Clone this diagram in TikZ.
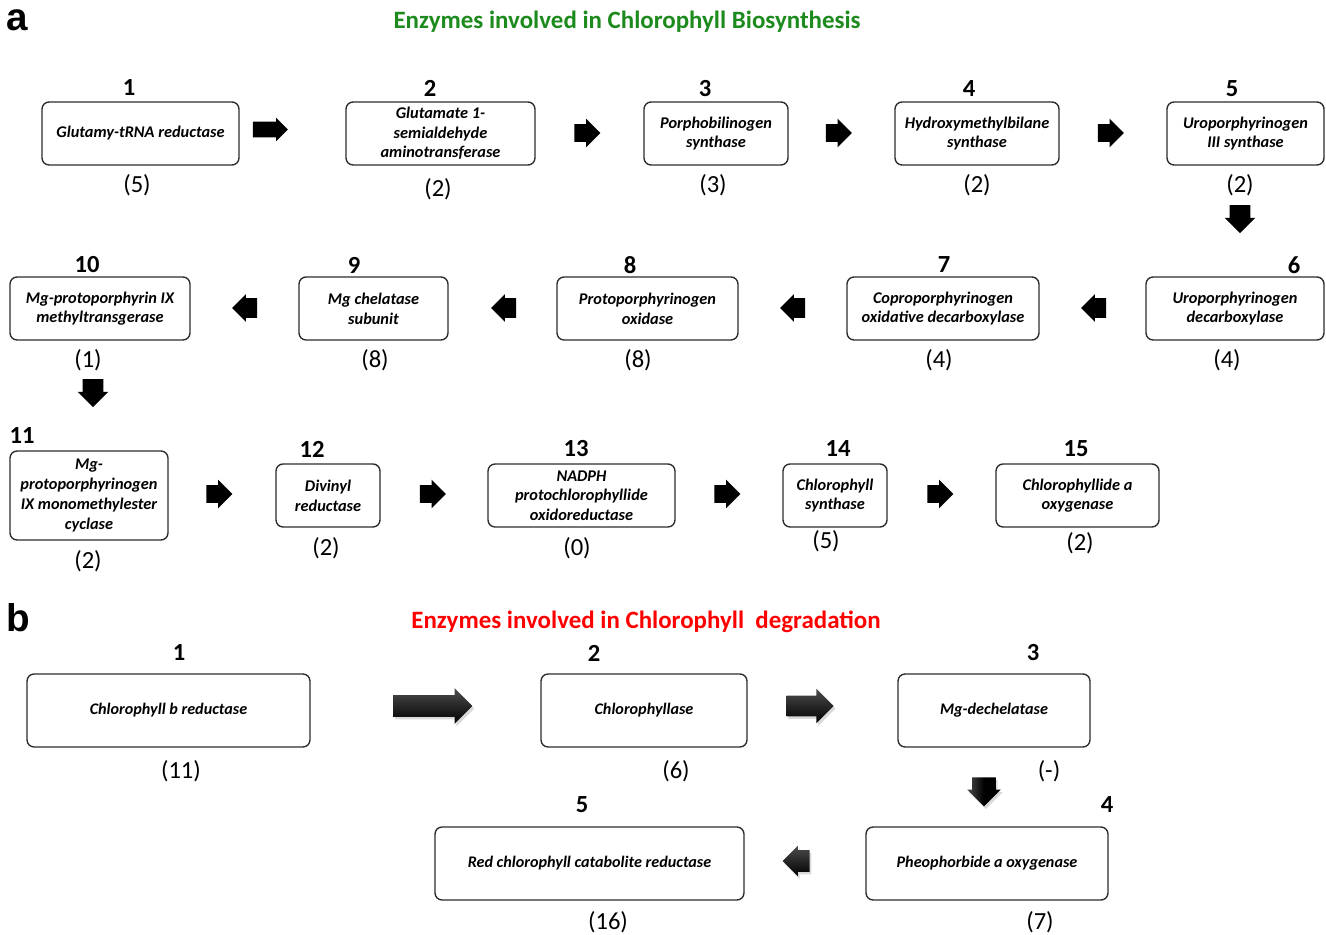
\documentclass[tikz,border=0pt]{standalone}
\usepackage{fontspec}
\setmainfont{Carlito}
\newfontfamily\arialfont{Liberation Sans}
\usetikzlibrary{shapes.arrows,shadows,positioning}

\definecolor{titlegreen}{RGB}{28,138,28}
\definecolor{titlered}{RGB}{255,0,0}
\definecolor{boxline}{RGB}{45,45,45}

\tikzset{
  enzyme/.style={draw=boxline, line width=0.8pt, rounded corners=4pt, align=center,
    inner sep=1pt, minimum height=1.26cm,
    font=\fontsize{9.3}{11.2}\selectfont\bfseries\itshape},
  degr/.style={enzyme, minimum height=1.46cm, font=\fontsize{9.2}{10}\selectfont\bfseries\itshape},
  stepno/.style={font=\fontsize{14}{14}\selectfont\bfseries},
  count/.style={font=\fontsize{14}{14}\selectfont},
  panel/.style={font=\arialfont\fontsize{22}{22}\selectfont\bfseries},
  heading/.style={font=\fontsize{14.2}{15}\selectfont\bfseries},
  fat/.style={single arrow, fill=black, draw=none, single arrow head indent=0pt},
  rarr/.style={fat, minimum height=0.52cm, inner xsep=0pt, inner ysep=0.17cm, single arrow head extend=0.11cm},
  larr/.style={fat, shape border rotate=180, minimum height=0.50cm, inner xsep=0pt, inner ysep=0.19cm, single arrow head extend=0.08cm},
  darr/.style={fat, shape border rotate=270, minimum height=0.56cm, inner ysep=0pt, inner xsep=0.20cm, single arrow head extend=0.10cm},
  glossy/.style={single arrow, draw=none, top color=black!70, middle color=black, bottom color=black,
    drop shadow={shadow xshift=1pt, shadow yshift=-1.5pt, opacity=0.3}},
}

\begin{document}
\begin{tikzpicture}[x=0.02cm, y=-0.02cm]
\useasboundingbox (0,0) rectangle (1326,935);

% panel a
\node[panel, inner sep=0pt] (pa) at (17,20) {a};
\node[heading, text=titlegreen] (ta) at (627,22) {Enzymes involved in Chlorophyll Biosynthesis};

\node[enzyme, minimum width=3.94cm] (e1) at (140.5,133.5) {Glutamy-tRNA reductase};
\node[enzyme, minimum width=3.78cm] (e2) at (440.5,133.5) {Glutamate 1-\\semialdehyde\\aminotransferase};
\node[enzyme, minimum width=2.88cm] (e3) at (716,133.5) {Porphobilinogen\\synthase};
\node[enzyme, minimum width=3.28cm] (e4) at (977,133.5) {Hydroxymethylbilane\\synthase};
\node[enzyme, minimum width=3.14cm] (e5) at (1245.5,133.5) {Uroporphyrinogen\\III synthase};

\node[enzyme, minimum width=3.56cm] (e6) at (1235,308.5) {Uroporphyrinogen\\decarboxylase};
\node[enzyme, minimum width=3.84cm] (e7) at (943,308.5) {Coproporphyrinogen\\oxidative decarboxylase};
\node[enzyme, minimum width=3.62cm] (e8) at (647.5,308.5) {Protoporphyrinogen\\oxidase};
\node[enzyme, minimum width=2.98cm] (e9) at (373.5,308.5) {Mg chelatase\\subunit};
\node[enzyme, minimum width=3.60cm] (e10) at (100,308.5) {Mg-protoporphyrin IX\\methyltransgerase};

\node[enzyme, minimum width=3.16cm, minimum height=1.78cm] (e11) at (89,495.5) {Mg-\\protoporphyrinogen\\IX monomethylester\\cyclase};
\node[enzyme, minimum width=2.08cm] (e12) at (328,495.5) {Divinyl\\reductase};
\node[enzyme, minimum width=3.74cm] (e13) at (581.5,495.5) {NADPH\\protochlorophyllide\\oxidoreductase};
\node[enzyme, minimum width=2.08cm] (e14) at (835,495.5) {Chlorophyll\\synthase};
\node[enzyme, minimum width=3.26cm] (e15) at (1077.5,495.5) {Chlorophyllide a\\oxygenase};

% step numbers
\node[stepno] (n1) at (129,88) {1};
\node[stepno] (n2) at (430,88) {2};
\node[stepno] (n3) at (705,89) {3};
\node[stepno] (n4) at (969,89) {4};
\node[stepno] (n5) at (1232,89) {5};
\node[stepno] (n6) at (1294,265) {6};
\node[stepno] (n7) at (944,265) {7};
\node[stepno] (n8) at (630,265) {8};
\node[stepno] (n9) at (354,265) {9};
\node[stepno] (n10) at (87,265) {10};
\node[stepno] (n11) at (22,436) {11};
\node[stepno] (n12) at (312,449) {12};
\node[stepno] (n13) at (576,449) {13};
\node[stepno] (n14) at (838,449) {14};
\node[stepno] (n15) at (1076,449) {15};

% gene counts
\node[count] (c1) at (137,185) {(5)};
\node[count] (c2) at (438,189) {(2)};
\node[count] (c3) at (713,185) {(3)};
\node[count] (c4) at (977,185) {(2)};
\node[count] (c5) at (1240,185) {(2)};
\node[count] (c6) at (1227,360) {(4)};
\node[count] (c7) at (939,360) {(4)};
\node[count] (c8) at (638,360) {(8)};
\node[count] (c9) at (375,360) {(8)};
\node[count] (c10) at (88,360) {(1)};
\node[count] (c11) at (88,561) {(2)};
\node[count] (c12) at (326,548) {(2)};
\node[count] (c13) at (577,548) {(0)};
\node[count] (c14) at (826,541) {(5)};
\node[count] (c15) at (1080,543) {(2)};

% block arrows
\node[rarr, minimum height=0.70cm, inner ysep=0.15cm, single arrow head extend=0.08cm] (r12) at (266.5,129.5) {};
\node[rarr] (r23) at (583,133) {};
\node[rarr] (r34) at (834.5,133) {};
\node[rarr] (r45) at (1106.5,133) {};
\node[darr] (r56) at (1240,214) {};
\node[larr] (r67) at (1098.5,308) {};
\node[larr] (r78) at (797.5,308) {};
\node[larr] (r89) at (508.5,308) {};
\node[larr] (r910) at (249.5,308) {};
\node[darr] (r1011) at (93,388) {};
\node[rarr] (r1112) at (215,494) {};
\node[rarr] (r1213) at (428.5,494) {};
\node[rarr] (r1314) at (723,494) {};
\node[rarr] (r1415) at (936,494) {};

% panel b
\node[panel, inner sep=0pt] (pb) at (18,618) {b};
\node[heading, text=titlered] (tb) at (646,622) {Enzymes involved in Chlorophyll\ \ degradation};

\node[degr, minimum width=5.66cm] (d1) at (168.5,710.5) {Chlorophyll b reductase};
\node[degr, minimum width=4.12cm] (d2) at (644,710.5) {Chlorophyllase};
\node[degr, minimum width=3.84cm] (d3) at (994,710.5) {Mg-dechelatase};
\node[degr, minimum width=4.84cm] (d4) at (987,863.5) {Pheophorbide a oxygenase};
\node[degr, minimum width=6.18cm] (d5) at (589.5,863.5) {Red chlorophyll catabolite reductase};

\node[stepno] (m1) at (179,653) {1};
\node[stepno] (m2) at (594,653) {2};
\node[stepno] (m3) at (1033,653) {3};
\node[stepno] (m4) at (1107,805) {4};
\node[stepno] (m5) at (582,805) {5};

\node[count] (k1) at (181,771) {(11)};
\node[count] (k2) at (676,771) {(6)};
\node[count] (k3) at (1049,771) {(-)};
\node[count] (k4) at (1040,922) {(7)};
\node[count] (k5) at (608,922) {(16)};

\node[glossy, minimum height=1.58cm, inner xsep=0pt, inner ysep=0.21cm, single arrow head extend=0.14cm] (s12) at (427.5,706) {};
\node[glossy, minimum height=0.94cm, inner xsep=0pt, inner ysep=0.20cm, single arrow head extend=0.14cm] (s23) at (805,706) {};
\node[glossy, shape border rotate=270, left color=black!70, right color=black, middle color=black,
  minimum height=0.58cm, inner ysep=0pt, inner xsep=0.23cm, single arrow head extend=0.10cm] (s34) at (984,786) {};
\node[glossy, shape border rotate=180, minimum height=0.54cm, inner xsep=0pt, inner ysep=0.21cm, single arrow head extend=0.09cm] (s45) at (801.5,861) {};
\end{tikzpicture}
\end{document}
